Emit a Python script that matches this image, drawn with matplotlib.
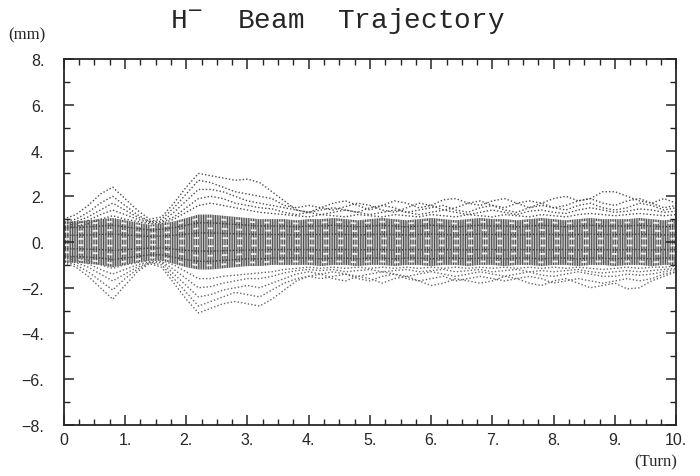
"""H- beam trajectory over the first ten turns (scanned plot remake)"""

import matplotlib.pyplot as plt
import numpy as np

# turn knots, every 0.2 turn
turn = np.linspace(0, 10, 51)

# outer trajectories above the axis (mm)
upper = [
    [1.0, 1.2, 1.6, 2.1, 2.4, 1.9, 1.4, 1.0, 1.1, 1.7, 2.4, 3.0, 2.9, 2.8, 2.7, 2.75, 2.6,
     2.2, 1.8, 1.4, 1.3, 1.5, 1.7, 1.8, 1.6, 1.4, 1.6, 1.8, 1.7, 1.5, 1.6, 1.85, 1.9, 1.7,
     1.6, 1.8, 1.9, 1.7, 1.5, 1.7, 1.9, 2.0, 1.8, 1.9, 2.2, 2.2, 2.0, 1.8, 1.7, 1.9, 1.7],
    [0.9, 1.0, 1.3, 1.7, 2.0, 1.6, 1.2, 0.9, 1.0, 1.5, 2.1, 2.7, 2.6, 2.4, 2.2, 2.1, 2.0,
     1.9, 1.6, 1.5, 1.6, 1.5, 1.4, 1.55, 1.7, 1.6, 1.4, 1.3, 1.5, 1.7, 1.6, 1.4, 1.5, 1.7,
     1.8, 1.6, 1.5, 1.7, 1.8, 1.7, 1.5, 1.6, 1.8, 1.9, 1.7, 1.6, 1.8, 1.9, 1.7, 1.5, 1.6],
    [0.8, 0.9, 1.1, 1.4, 1.7, 1.4, 1.1, 0.9, 0.9, 1.3, 1.8, 2.3, 2.3, 2.2, 2.0, 1.8, 1.7,
     1.6, 1.5, 1.4, 1.3, 1.4, 1.5, 1.4, 1.3, 1.5, 1.6, 1.5, 1.3, 1.4, 1.5, 1.6, 1.4, 1.3,
     1.5, 1.6, 1.4, 1.3, 1.5, 1.6, 1.5, 1.4, 1.6, 1.7, 1.5, 1.4, 1.5, 1.7, 1.6, 1.4, 1.5],
    [0.7, 0.8, 0.95, 1.2, 1.4, 1.2, 1.0, 0.85, 0.85, 1.1, 1.5, 1.9, 2.0, 1.9, 1.7, 1.6, 1.5,
     1.45, 1.3, 1.2, 1.3, 1.2, 1.3, 1.4, 1.3, 1.2, 1.3, 1.4, 1.3, 1.2, 1.3, 1.4, 1.3, 1.2,
     1.3, 1.4, 1.3, 1.2, 1.35, 1.4, 1.3, 1.25, 1.4, 1.5, 1.4, 1.3, 1.35, 1.45, 1.4, 1.3, 1.35],
    [0.6, 0.7, 0.8, 1.0, 1.15, 1.0, 0.9, 0.8, 0.8, 1.0, 1.3, 1.6, 1.7, 1.6, 1.5, 1.4, 1.3,
     1.25, 1.2, 1.15, 1.1, 1.2, 1.15, 1.1, 1.2, 1.15, 1.1, 1.2, 1.15, 1.1, 1.2, 1.15, 1.1, 1.2,
     1.15, 1.1, 1.2, 1.15, 1.1, 1.2, 1.15, 1.1, 1.2, 1.25, 1.2, 1.15, 1.2, 1.25, 1.2, 1.15, 1.2],
]

# outer trajectories below the axis (mm)
lower = [
    [-0.9, -1.1, -1.5, -2.0, -2.5, -1.9, -1.3, -0.95, -1.1, -1.8, -2.5, -3.1, -2.9, -2.7, -2.6,
     -2.7, -2.8, -2.5, -2.1, -1.7, -1.5, -1.4, -1.6, -1.7, -1.5, -1.6, -1.8, -1.6, -1.5, -1.7,
     -1.9, -1.8, -1.6, -1.7, -1.8, -1.7, -1.5, -1.6, -1.8, -1.9, -1.7, -1.6, -1.8, -2.0, -1.9,
     -1.8, -2.05, -2.0, -1.7, -1.5, -1.3],
    [-0.85, -1.0, -1.3, -1.7, -2.1, -1.6, -1.2, -0.9, -1.0, -1.6, -2.2, -2.8, -2.6, -2.4, -2.2,
     -2.3, -2.4, -2.1, -1.8, -1.6, -1.5, -1.6, -1.5, -1.4, -1.6, -1.7, -1.5, -1.4, -1.6, -1.7,
     -1.6, -1.5, -1.7, -1.6, -1.5, -1.6, -1.7, -1.6, -1.5, -1.6, -1.8, -1.7, -1.6, -1.7, -1.8,
     -1.7, -1.6, -1.7, -1.6, -1.4, -1.3],
    [-0.8, -0.9, -1.1, -1.4, -1.7, -1.4, -1.1, -0.9, -0.9, -1.4, -1.9, -2.4, -2.3, -2.1, -2.0,
     -1.9, -2.0, -1.8, -1.6, -1.4, -1.3, -1.4, -1.3, -1.4, -1.5, -1.4, -1.3, -1.4, -1.5, -1.4,
     -1.3, -1.4, -1.5, -1.4, -1.3, -1.4, -1.5, -1.4, -1.3, -1.45, -1.5, -1.4, -1.3, -1.4, -1.5,
     -1.5, -1.4, -1.45, -1.4, -1.3, -1.2],
    [-0.7, -0.8, -0.95, -1.2, -1.4, -1.2, -1.0, -0.85, -0.85, -1.2, -1.6, -2.0, -1.95, -1.8,
     -1.7, -1.6, -1.6, -1.5, -1.35, -1.25, -1.2, -1.25, -1.2, -1.3, -1.25, -1.2, -1.3, -1.25,
     -1.2, -1.3, -1.25, -1.2, -1.3, -1.25, -1.2, -1.3, -1.25, -1.2, -1.3, -1.25, -1.3, -1.25,
     -1.2, -1.3, -1.35, -1.3, -1.25, -1.3, -1.25, -1.2, -1.15],
    [-0.6, -0.7, -0.8, -1.0, -1.15, -1.0, -0.9, -0.8, -0.8, -1.0, -1.3, -1.6, -1.6, -1.5, -1.45,
     -1.4, -1.35, -1.3, -1.2, -1.15, -1.1, -1.15, -1.1, -1.15, -1.1, -1.15, -1.1, -1.15, -1.1,
     -1.15, -1.1, -1.15, -1.1, -1.15, -1.1, -1.15, -1.1, -1.15, -1.1, -1.15, -1.1, -1.15, -1.1,
     -1.15, -1.2, -1.15, -1.1, -1.15, -1.1, -1.1, -1.05],
]

# edges of the dense dark core of the bunch (mm)
core_top = [0.9, 0.9, 0.95, 1.0, 1.05, 0.95, 0.85, 0.75, 0.8, 0.9, 1.05, 1.2, 1.2, 1.15, 1.1,
            1.05, 1.0, 1.0, 1.0, 0.95, 1.0, 1.0, 1.05, 1.0, 0.95, 1.0, 1.05, 1.0, 0.95, 1.0,
            1.05, 1.0, 0.95, 1.0, 1.05, 1.0, 1.0, 0.95, 1.0, 1.05, 1.0, 0.95, 1.0, 1.05, 1.0,
            1.0, 1.0, 1.05, 1.0, 0.95, 1.0]
core_bot = [-0.9, -0.9, -0.95, -1.0, -1.1, -1.0, -0.9, -0.8, -0.8, -0.95, -1.1, -1.2, -1.2,
            -1.15, -1.1, -1.05, -1.05, -1.0, -1.0, -1.0, -1.0, -1.05, -1.0, -1.0, -1.05, -1.0,
            -1.0, -1.05, -1.0, -1.0, -1.05, -1.0, -1.0, -1.05, -1.0, -1.0, -1.05, -1.0, -1.0,
            -1.05, -1.0, -1.0, -1.05, -1.0, -1.0, -1.05, -1.0, -1.0, -1.05, -1.0, -1.0]

x_ticks = [0, 1, 2, 3, 4, 5, 6, 7, 8, 9, 10]
x_labels = ['0', '1.', '2.', '3.', '4.', '5.', '6.', '7.', '8.', '9.', '10.']
y_ticks = [-8, -6, -4, -2, 0, 2, 4, 6, 8]
y_labels = ['\u22128.', '\u22126.', '\u22124.', '\u22122.', '0.', '2.', '4.', '6.', '8.']

ink = '0.15'
plt.rcParams['hatch.linewidth'] = 0.8

fig = plt.figure(figsize=(7, 4.77), dpi=100)
ax = fig.add_axes([0.091, 0.107, 0.875, 0.767])

# dense core: grey body, dark vertical striations, pale gaps between particles
ax.fill_between(turn, core_bot, core_top, facecolor='0.78', edgecolor='0.3',
                hatch='|||||||', linewidth=0)
for frac in [0.85, 0.5, 0.15, -0.15, -0.5, -0.85]:
    inner = np.array(core_top if frac > 0 else core_bot) * abs(frac)
    ax.plot(turn, inner, color='white', lw=1.3, ls=(0, (3, 5)), alpha=0.85)
for frac in [0.7, 0.33, -0.33, -0.7]:
    inner = np.array(core_top if frac > 0 else core_bot) * abs(frac)
    ax.plot(turn, inner, color='0.25', lw=1.0, ls=(0, (1, 1.3)))

dot = (0, (1, 1.5))
for curve in upper:
    ax.plot(turn, curve, color='0.3', lw=1.0, ls=dot)
for curve in lower:
    ax.plot(turn, curve, color='0.4', lw=1.0, ls=dot)

ax.set_xlim(0, 10)
ax.set_ylim(-8, 8)
ax.set_xticks(x_ticks)
ax.set_xticklabels(x_labels)
ax.set_yticks(y_ticks)
ax.set_yticklabels(y_labels)
ax.set_xticks(np.arange(0, 10.01, 0.25), minor=True)
ax.set_yticks(np.arange(-8, 8.01, 1), minor=True)
ax.tick_params(which='both', direction='in', top=True, right=True, color=ink,
               labelsize=11.5, labelcolor=ink)
ax.tick_params(which='major', length=7, width=1.1)
ax.tick_params(which='minor', length=4, width=1.0)
ax.tick_params(axis='y', pad=14)
ax.tick_params(axis='x', pad=5)
for side in ax.spines.values():
    side.set_color(ink)
    side.set_linewidth(1.3)
for lab in ax.get_xticklabels() + ax.get_yticklabels():
    lab.set_family('Liberation Sans')

fig.text(0.482, 0.955, 'H$^{-}$  Beam  Trajectory', ha='center', va='center',
         fontsize=20, family='Liberation Mono', color=ink)
fig.text(0.012, 0.925, '(mm)', ha='left', va='center', fontsize=12,
         family='Liberation Serif', color=ink)
fig.text(0.967, 0.03, '(Turn)', ha='right', va='center', fontsize=12,
         family='Liberation Serif', color=ink)

fig.savefig('out.png', dpi=100)
